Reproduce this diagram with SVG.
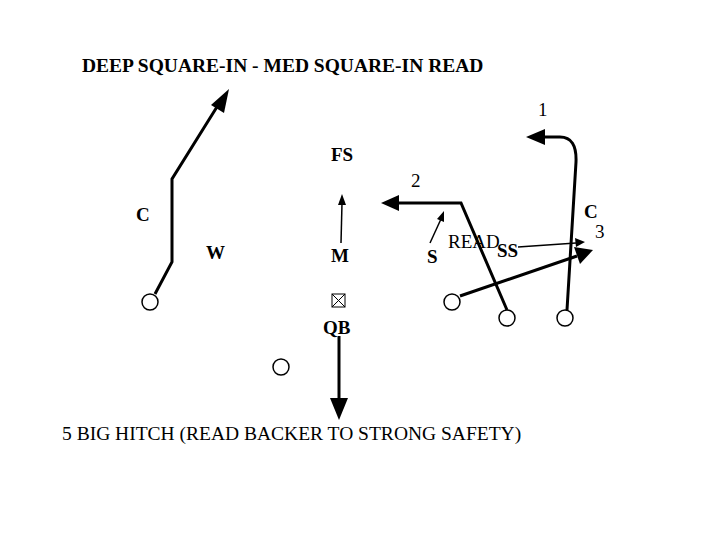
<svg xmlns="http://www.w3.org/2000/svg" width="720" height="540" viewBox="0 0 720 540">
<defs>
<style>
.b{font-family:"Liberation Serif","Times New Roman",serif;font-weight:bold;font-size:19px;fill:#000}
.r{font-family:"Liberation Serif","Times New Roman",serif;font-size:19px;fill:#000}
.route{fill:none;stroke:#000;stroke-width:3;stroke-linejoin:miter}
.thin{fill:none;stroke:#000;stroke-width:1.5}
.player{fill:#fff;stroke:#000;stroke-width:1.5}
.head{fill:#000}
</style>
</defs>
<rect width="720" height="540" fill="#fff"/>
<text class="b" x="82" y="72" style="font-size:19.5px">DEEP SQUARE-IN - MED SQUARE-IN READ</text>
<g id="connectors">
<polyline class="route" points="155,294 172,262 172,179 220,102"/>
<polygon class="head" points="229,89 224,113 211,105"/>
<polyline class="route" points="507,310 461,203 397,203"/>
<polygon class="head" points="381,203 399,195 399,211"/>
<path class="route" d="M567,310 L576,162 Q577,137 560,137 L543,137"/>
<polygon class="head" points="526,137 545,129 545,145"/>
<line class="route" x1="460" y1="296" x2="577" y2="256"/>
<polygon class="head" points="593,250 580,264 574,247"/>
<line class="thin" x1="518" y1="247" x2="576" y2="243"/>
<polygon class="head" points="585,242 575,238 576,247"/>
<line class="thin" x1="430" y1="243" x2="441" y2="219"/>
<polygon class="head" points="444,211 444,222 437,219"/>
<line class="thin" x1="341" y1="243" x2="342" y2="203"/>
<polygon class="head" points="342,194 346,205 338,205"/>
<line class="route" x1="339" y1="336" x2="339" y2="400"/>
<polygon class="head" points="339,420 330,398 348,398"/>
</g>
<g id="p1"><circle class="player" cx="150" cy="302" r="8"/></g>
<g id="p2"><circle class="player" cx="281" cy="367" r="8"/></g>
<g id="p3"><circle class="player" cx="452" cy="302" r="8"/></g>
<g id="p4"><circle class="player" cx="507" cy="318" r="8"/></g>
<g id="p5"><circle class="player" cx="565" cy="318" r="8"/></g>
<g id="qb">
<rect x="332" y="294" width="13" height="13" fill="#fff" stroke="#000" stroke-width="1"/>
<path d="M332,294 L345,307 M345,294 L332,307" stroke="#000" stroke-width="1"/>
<text class="b" x="323" y="334">QB</text>
</g>
<g id="def-c1"><text class="b" x="136" y="221">C</text></g>
<g id="def-w"><text class="b" x="206" y="259">W</text></g>
<g id="def-fs"><text class="b" x="331" y="161">FS</text></g>
<g id="def-m"><text class="b" x="331" y="262">M</text></g>
<g id="def-s"><text class="b" x="427" y="263">S</text></g>
<g id="def-ss"><text class="b" x="497" y="257">SS</text></g>
<g id="def-c2"><text class="b" x="584" y="218">C</text></g>
<text class="r" x="448" y="248">READ</text>
<text class="r" x="411" y="187">2</text>
<text class="r" x="538" y="116">1</text>
<text class="r" x="595" y="238">3</text>
<text class="r" x="62" y="440" style="font-size:19.5px">5 BIG HITCH (READ BACKER TO STRONG SAFETY)</text>
</svg>
